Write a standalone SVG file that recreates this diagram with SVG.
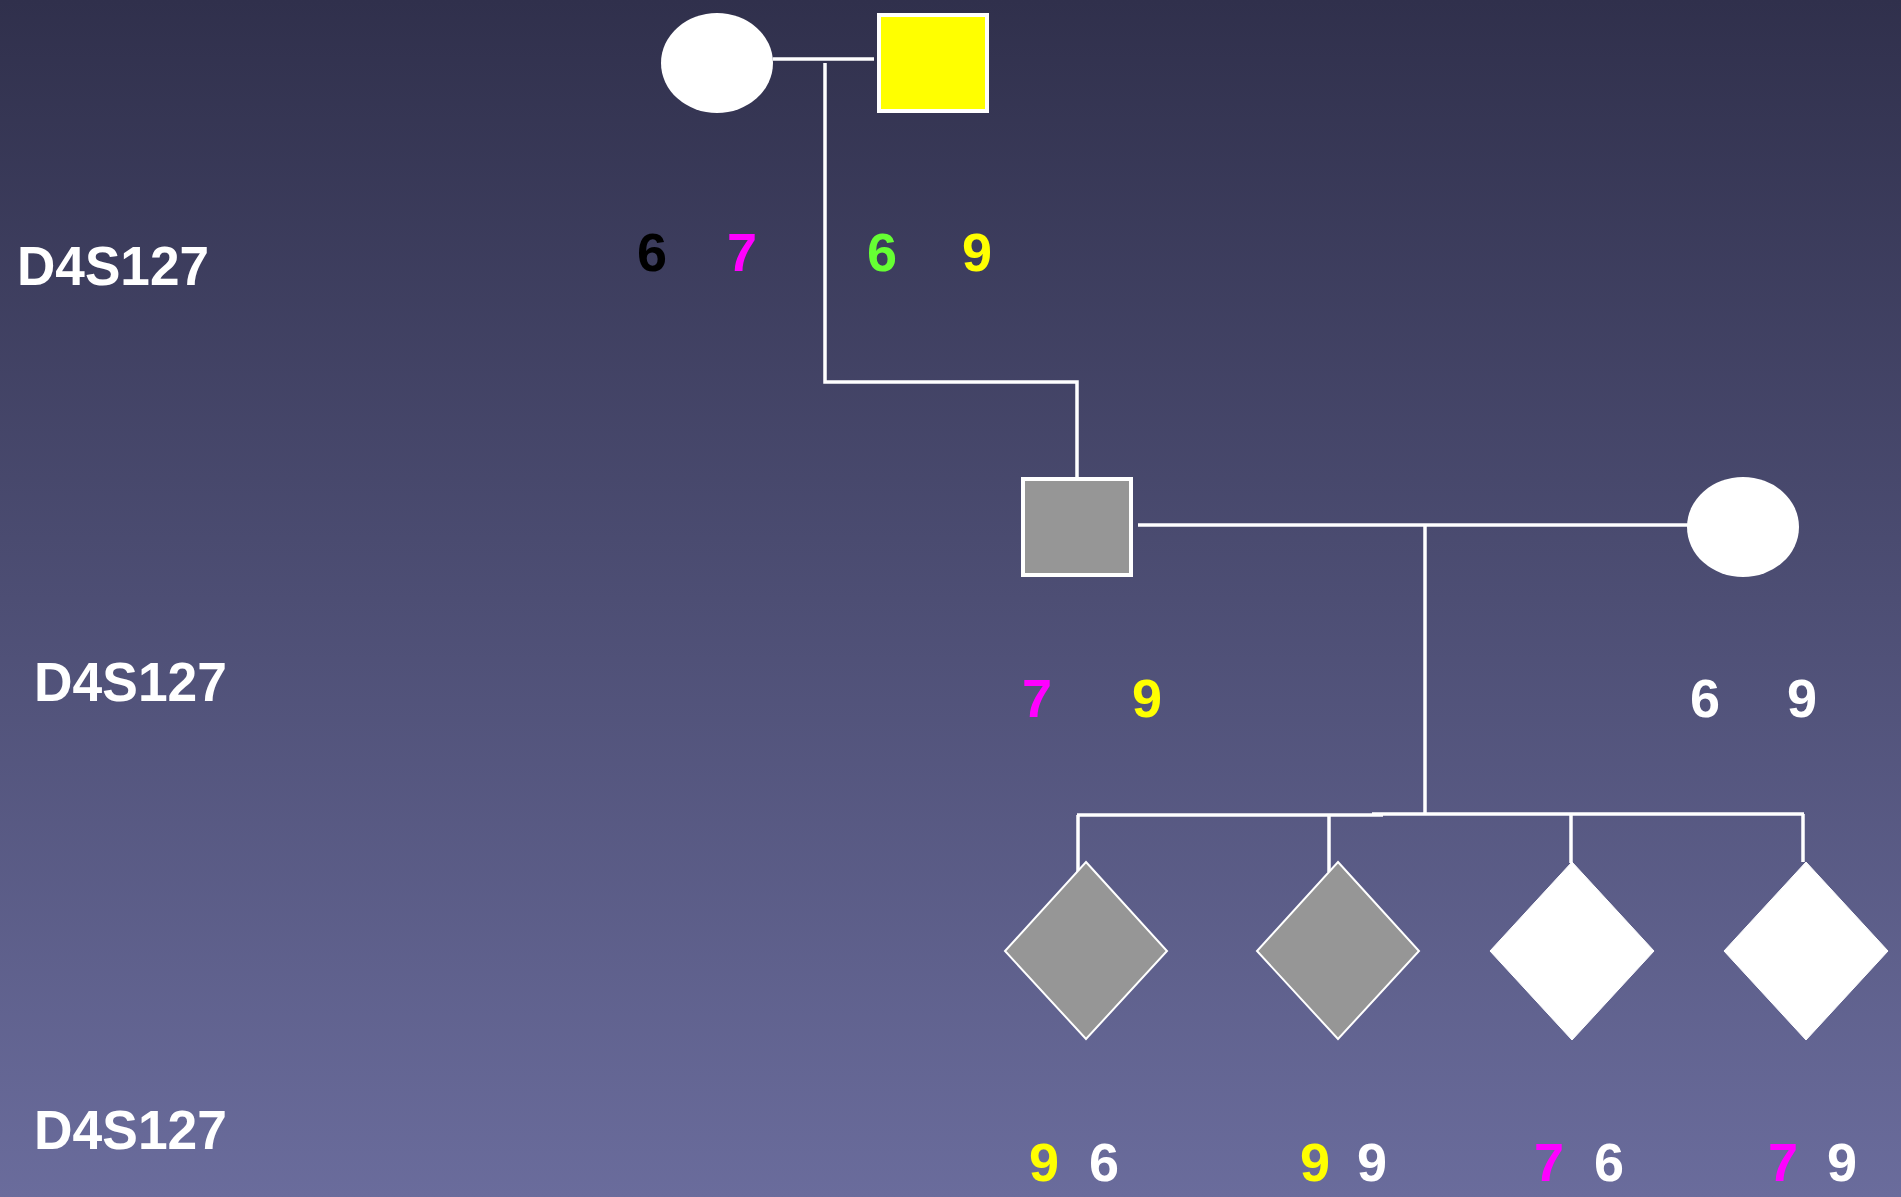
<svg xmlns="http://www.w3.org/2000/svg" width="1901" height="1197" viewBox="0 0 1901 1197">
<defs>
<linearGradient id="bg" x1="0" y1="0" x2="0" y2="1">
<stop offset="0" stop-color="#30304c"/>
<stop offset="1" stop-color="#6a6c9c"/>
</linearGradient>
<style>
.ln{stroke:#fff;stroke-width:3.5;fill:none}
.lbl{font-family:"Liberation Sans",Arial,sans-serif;font-weight:bold;font-size:55px;fill:#fff}
.d{font-family:"Liberation Sans",Arial,sans-serif;font-weight:bold;font-size:54px;text-anchor:middle}
.aff{fill:#969696;stroke:#fff;stroke-width:2}
.unaff{fill:#fff;stroke:#fff;stroke-width:1}
</style>
</defs>
<rect width="1901" height="1197" fill="url(#bg)"/>
<g id="connectors">
<line class="ln" x1="773" y1="59" x2="874" y2="59"/>
<polyline class="ln" points="825,63 825,382 1077,382 1077,477"/>
<line class="ln" x1="1138" y1="525" x2="1688" y2="525"/>
<line class="ln" x1="1425" y1="525" x2="1425" y2="814"/>
<line class="ln" x1="1077" y1="815" x2="1383" y2="815"/>
<line class="ln" x1="1372" y1="814" x2="1804" y2="814"/>
<line class="ln" x1="1078" y1="815" x2="1078" y2="873"/>
<line class="ln" x1="1329" y1="815" x2="1329" y2="872"/>
<line class="ln" x1="1571" y1="814" x2="1571" y2="863"/>
<line class="ln" x1="1803" y1="814" x2="1803" y2="862"/>
</g>
<g id="gp-mother"><ellipse cx="717" cy="63" rx="56" ry="50" fill="#fff"/></g>
<g id="gp-father"><rect x="879" y="15" width="108" height="96" fill="#ffff00" stroke="#fff" stroke-width="4"/></g>
<g id="father"><rect x="1023" y="479" width="108" height="96" fill="#969696" stroke="#fff" stroke-width="4"/></g>
<g id="mother"><ellipse cx="1743" cy="527" rx="56" ry="50" fill="#fff"/></g>
<g id="child1"><polygon class="aff" points="1086,862 1167,951 1086,1039 1005,951"/></g>
<g id="child2"><polygon class="aff" points="1338,862 1419,951 1338,1039 1257,951"/></g>
<g id="child3"><polygon class="unaff" points="1572,862 1654,951 1572,1040 1490,951"/></g>
<g id="child4"><polygon class="unaff" points="1806,862 1888,951 1806,1040 1724,951"/></g>
<g id="labels">
<text class="lbl" x="17" y="285" textLength="192" lengthAdjust="spacingAndGlyphs">D4S127</text>
<text class="lbl" x="34" y="701" textLength="193" lengthAdjust="spacingAndGlyphs">D4S127</text>
<text class="lbl" x="34" y="1149" textLength="193" lengthAdjust="spacingAndGlyphs">D4S127</text>
</g>
<g id="alleles">
<text class="d" x="652" y="271" fill="#000">6</text>
<text class="d" x="742" y="271" fill="#ff00ff">7</text>
<text class="d" x="882" y="271" fill="#66ff33">6</text>
<text class="d" x="977" y="271" fill="#ffff00">9</text>
<text class="d" x="1037" y="717" fill="#ff00ff">7</text>
<text class="d" x="1147" y="717" fill="#ffff00">9</text>
<text class="d" x="1705" y="717" fill="#fff">6</text>
<text class="d" x="1802" y="717" fill="#fff">9</text>
<text class="d" x="1044" y="1181" fill="#ffff00">9</text>
<text class="d" x="1104" y="1181" fill="#fff">6</text>
<text class="d" x="1315" y="1181" fill="#ffff00">9</text>
<text class="d" x="1372" y="1181" fill="#fff">9</text>
<text class="d" x="1549" y="1181" fill="#ff00ff">7</text>
<text class="d" x="1609" y="1181" fill="#fff">6</text>
<text class="d" x="1783" y="1181" fill="#ff00ff">7</text>
<text class="d" x="1842" y="1181" fill="#fff">9</text>
</g>
</svg>
